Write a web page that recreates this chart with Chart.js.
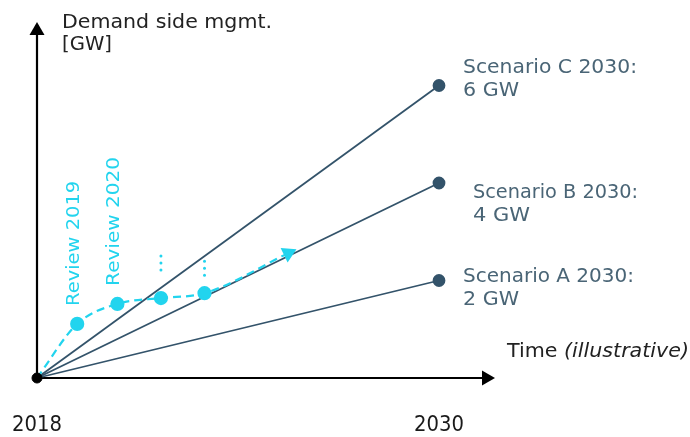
<!DOCTYPE html>
<html>
<head>
<meta charset="utf-8">
<script src="https://cdn.jsdelivr.net/npm/chart.js@4/dist/chart.umd.min.js"></script>
<style>
  html, body { margin: 0; padding: 0; background: #ffffff; }
  #wrap { width: 690px; height: 437px; position: relative; }
</style>
</head>
<body>
<div id="wrap"><canvas id="c" width="690" height="437"></canvas></div>
<script>
// Time axis
const startYear = 2018;
const endYear = 2030;
const xTickYears = [2018, 2030];

// Scenario targets for 2030 [GW]
const scenarioNames = ['Scenario A 2030:', 'Scenario B 2030:', 'Scenario C 2030:'];
const scenarioValues = [2, 4, 6];
const scenarioValueLabels = ['2 GW', '4 GW', '6 GW'];

// Review path (illustrative), ending in an arrow
const reviewYears = [2018, 2019.2, 2020.4, 2021.7, 2023.0, 2025.5];
const reviewValues = [0, 1.11, 1.52, 1.64, 1.74, 2.56];
const reviewLabels = ['Review 2019', 'Review 2020'];

const AXIS_TITLE_Y = ['Demand side mgmt.', '[GW]'];
const AXIS_TITLE_X = ['Time ', '(illustrative)'];

const slate = '#33536A';
const slateText = '#4A6576';
const cyan = '#22D4EE';
const FAMILY = '"DejaVu Sans", sans-serif';
const font = (px, style) => (style ? style + ' ' : '') + px + 'px ' + FAMILY;

const datasets = [];
scenarioValues.forEach((v, i) => {
  datasets.push({
    label: scenarioNames[i],
    data: [{ x: startYear, y: 0 }, { x: endYear, y: v }],
    borderColor: slate,
    backgroundColor: slate,
    borderWidth: 1.8,
    pointRadius: [0, 5.5],
    pointHoverRadius: [0, 5.5],
    clip: false,
    order: 3
  });
});

const last = reviewYears.length - 1;
datasets.push({
  label: 'Review',
  data: reviewYears.map((x, i) => ({ x, y: reviewValues[i] })),
  borderColor: cyan,
  backgroundColor: cyan,
  borderWidth: 2.2,
  borderDash: [8, 5],
  cubicInterpolationMode: 'monotone',
  pointRadius: reviewYears.map((_, i) => i === 0 ? 0 : (i === last ? 7 : 6)),
  pointStyle: reviewYears.map((_, i) => i === last ? 'triangle' : 'circle'),
  rotation: reviewYears.map((_, i) => i === last ? 64 : 0),
  clip: false,
  order: 2
});

datasets.push({
  label: 'Origin',
  data: [{ x: startYear, y: 0 }],
  borderColor: '#000000',
  backgroundColor: '#000000',
  pointRadius: 5,
  showLine: false,
  clip: false,
  order: 1
});

// Draws text fitted horizontally to a given width (wide geometric lettering)
function wideText(ctx, parts, x, y, width) {
  let natural = 0;
  parts.forEach(p => { ctx.font = p.font; natural += ctx.measureText(p.text).width; });
  const s = width / natural;
  ctx.save();
  ctx.translate(x, y);
  ctx.scale(s, 1);
  let cx = 0;
  parts.forEach(p => {
    ctx.font = p.font;
    ctx.fillText(p.text, cx, 0);
    cx += ctx.measureText(p.text).width;
  });
  ctx.restore();
}

// Axes with arrow heads, tick years, titles and annotations
const decorations = {
  id: 'decorations',
  beforeDatasetsDraw(chart) {
    const { ctx, scales: { x, y } } = chart;
    const x0 = x.getPixelForValue(startYear);
    const y0 = y.getPixelForValue(0);
    const xEnd = chart.chartArea.right;
    const yTop = chart.chartArea.top;
    ctx.save();
    ctx.strokeStyle = '#000';
    ctx.fillStyle = '#000';
    ctx.lineWidth = 2.2;
    ctx.beginPath();
    ctx.moveTo(x0, y0);
    ctx.lineTo(xEnd - 10, y0);
    ctx.moveTo(x0, y0);
    ctx.lineTo(x0, yTop + 10);
    ctx.stroke();
    ctx.beginPath();
    ctx.moveTo(xEnd, y0);
    ctx.lineTo(xEnd - 13, y0 - 7.5);
    ctx.lineTo(xEnd - 13, y0 + 7.5);
    ctx.closePath();
    ctx.fill();
    ctx.beginPath();
    ctx.moveTo(x0, yTop);
    ctx.lineTo(x0 - 7.5, yTop + 13);
    ctx.lineTo(x0 + 7.5, yTop + 13);
    ctx.closePath();
    ctx.fill();
    ctx.restore();
  },
  afterDatasetsDraw(chart) {
    const { ctx, scales: { x, y } } = chart;
    const y0 = y.getPixelForValue(0);
    ctx.save();
    ctx.textBaseline = 'middle';
    ctx.textAlign = 'left';

    // tick years
    ctx.fillStyle = '#1a1a1a';
    xTickYears.forEach(t => {
      const px = x.getPixelForValue(t);
      wideText(ctx, [{ text: String(t), font: font(22) }], px - 25, y0 + 47, 50);
    });

    // axis titles
    ctx.fillStyle = '#222';
    wideText(ctx, [{ text: AXIS_TITLE_Y[0], font: font(20) }], 62, 23, 210);
    wideText(ctx, [{ text: AXIS_TITLE_Y[1], font: font(20) }], 62, 45, 50);
    wideText(ctx, [{ text: AXIS_TITLE_X[0], font: font(20) }, { text: AXIS_TITLE_X[1], font: font(20, 'italic') }], 507, 352, 182);

    // scenario labels next to the 2030 points
    ctx.fillStyle = slateText;
    const labelDx = [24, 34, 24];
    const labelDy = [-4, 10, -18];
    const labelW = [171, 165, 174];
    const valueW = [56, 57, 56];
    scenarioValues.forEach((v, i) => {
      const px = x.getPixelForValue(endYear) + labelDx[i];
      const py = y.getPixelForValue(v) + labelDy[i];
      wideText(ctx, [{ text: scenarioNames[i], font: font(20) }], px, py, labelW[i]);
      wideText(ctx, [{ text: scenarioValueLabels[i], font: font(20) }], px, py + 23, valueW[i]);
    });

    // rotated review labels above the first two review points
    ctx.fillStyle = cyan;
    const reviewW = [125, 129];
    reviewLabels.forEach((txt, i) => {
      const px = x.getPixelForValue(reviewYears[i + 1]) - 3;
      const py = y.getPixelForValue(reviewValues[i + 1]) - 18;
      ctx.save();
      ctx.translate(px, py);
      ctx.rotate(-Math.PI / 2);
      wideText(ctx, [{ text: txt, font: font(18) }], 0, 0, reviewW[i]);
      ctx.restore();
    });

    // continuation marks above the later review points
    const markDy = [-35, -25];
    [3, 4].forEach((i, j) => {
      const px = x.getPixelForValue(reviewYears[i]);
      const py = y.getPixelForValue(reviewValues[i]) + markDy[j];
      for (let k = 0; k < 3; k++) {
        ctx.beginPath();
        ctx.arc(px, py - 7 + k * 7, 1.5, 0, Math.PI * 2);
        ctx.fill();
      }
    });
    ctx.restore();
  }
};

new Chart(document.getElementById('c'), {
  type: 'scatter',
  data: { datasets },
  options: {
    responsive: false,
    animation: false,
    showLine: true,
    layout: { padding: { left: 37, right: 195, top: 22, bottom: 59 } },
    plugins: { legend: { display: false }, tooltip: { enabled: false } },
    scales: {
      x: { type: 'linear', display: false, min: 2018, max: 2018 + 458 / 33.5 },
      y: { type: 'linear', display: false, min: 0, max: 356 / 48.75 }
    }
  },
  plugins: [decorations]
});
</script>
</body>
</html>
